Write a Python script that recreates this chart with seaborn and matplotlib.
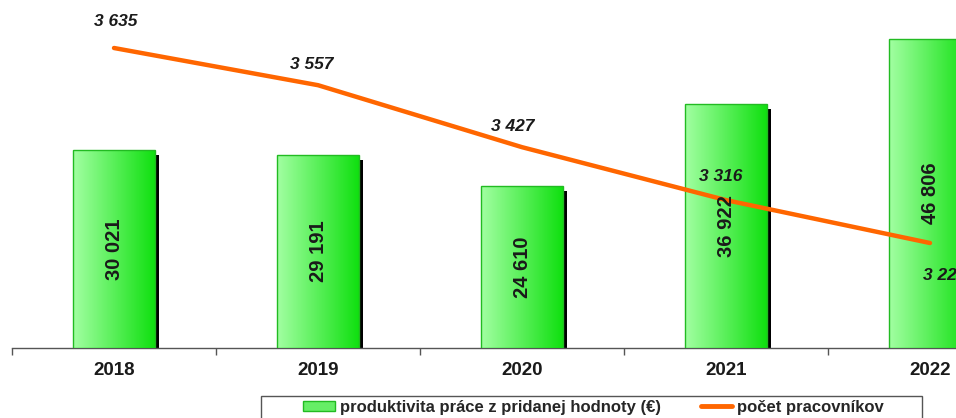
import numpy as np
import pandas as pd
import matplotlib
matplotlib.use("Agg")
import matplotlib.pyplot as plt
from matplotlib.colors import LinearSegmentedColormap
from matplotlib.patches import Rectangle, Patch
from matplotlib.lines import Line2D
import seaborn as sns

years = ["2018", "2019", "2020", "2021", "2022"]
productivity = [30021, 29191, 24610, 36922, 46806]
workers = [3635, 3557, 3427, 3316, 3226]
bar_labels = ["30 021", "29 191", "24 610", "36 922", "46 806"]
line_labels = ["3 635", "3 557", "3 427", "3 316", "3 226"]
legend_labels = ["produktivita práce z pridanej hodnoty (€)", "počet pracovníkov"]

sns.set_style("white")
plt.rcParams["font.family"] = ["Liberation Sans", "DejaVu Sans"]

W, H = 956, 418
fig = plt.figure(figsize=(W / 100, H / 100), dpi=100)
ax = fig.add_axes([12 / W, (H - 348) / H, 1020 / W, 348 / H])

df = pd.DataFrame({"year": years, "prod": productivity})
sns.barplot(data=df, x="year", y="prod", ax=ax, width=0.40,
            color="#66ee66", edgecolor="#22bb22", linewidth=1.0, zorder=3)

ax.set_xlim(-0.5, 4.5)
ax.set_ylim(0, 348 / 0.0066)

ax2 = ax.twinx()
top = 3635 + 48 / 0.4768
bot = 3635 - 300 / 0.4768
sns.lineplot(x=np.arange(len(years)), y=workers, ax=ax2, color="#ff6600",
             linewidth=3.2, zorder=5, solid_capstyle="round")
ax2.set_ylim(bot, top)
ax2.set_xlim(-0.5, 4.5)
ax2.axis("off")

cmap = LinearSegmentedColormap.from_list("g", ["#a2ffa2", "#10e010"])
grad = np.linspace(0, 1, 256).reshape(1, -1)
px_x = 1.0 / 204.0
px_y = 1.0 / 0.0066
for i, p in enumerate([q for q in ax.patches]):
    x0, w, h = p.get_x(), p.get_width(), p.get_height()
    ax.add_patch(Rectangle((x0 + w, 0), 4 * px_x, h - 5 * px_y,
                           facecolor="black", edgecolor="none", zorder=2))
    im = ax.imshow(grad, cmap=cmap, aspect="auto", extent=[x0, x0 + w, 0, h],
                   zorder=3.5, interpolation="bicubic")
    im.set_clip_path(p)
    p.set_zorder(4)
    p.set_facecolor("none")
    ax2.text(x0 + w / 2, h / 2, bar_labels[i], rotation=90, ha="center",
             va="center", fontsize=14.5, fontweight="bold", color="#1a1a1a",
             zorder=6, transform=ax.transData)

ax.set_xlim(-0.5, 4.5)
ax.set_ylim(0, 348 / 0.0066)

offsets = [(2, 26), (-6, 21), (-9, 21), (-5, 24), (15, -32)]
for i, (v, t) in enumerate(zip(workers, line_labels)):
    ax2.annotate(t, (i, v), xytext=offsets[i], textcoords="offset pixels",
                 ha="center", va="center", fontsize=12.5, fontweight="bold",
                 style="italic", color="#1a1a1a", zorder=7)

for s in ["top", "right", "left"]:
    ax.spines[s].set_visible(False)
ax.spines["bottom"].set_color("#555555")
ax.spines["bottom"].set_linewidth(1.0)
ax.set_yticks([])
ax.set_xlabel("")
ax.set_ylabel("")
ax.set_xticks(range(len(years)))
ax.set_xticklabels(years, fontsize=13.5, fontweight="bold", color="#1a1a1a")
ax.set_xticks(np.arange(-0.5, 5.0, 1.0), minor=True)
ax.tick_params(axis="x", which="major", bottom=True, length=0, pad=10)
ax.tick_params(axis="x", which="minor", bottom=True, length=5, width=1,
               color="#555555", direction="out")

# legend frame (clipped at the figure bottom, as in the reference)
fig.patches.append(Rectangle((261 / W, -0.1), (922 - 261) / W, 0.1 + (H - 396) / H,
                             transform=fig.transFigure, facecolor="white",
                             edgecolor="#555555", linewidth=1.0, zorder=1))
handles = [Patch(facecolor="#66ee66", edgecolor="#22bb22"),
           Line2D([0], [0], color="#ff6600", linewidth=3.5)]
leg = fig.legend(handles, legend_labels, loc="upper left",
                 bbox_to_anchor=(303 / W, (H - 400) / H), ncol=2, frameon=False,
                 prop={"weight": "bold", "size": 12},
                 handlelength=1.9, handleheight=0.6, handletextpad=0.3,
                 columnspacing=2.4, borderaxespad=0, borderpad=0)
leg.set_zorder(2)

fig.savefig("out.png", dpi=100)
